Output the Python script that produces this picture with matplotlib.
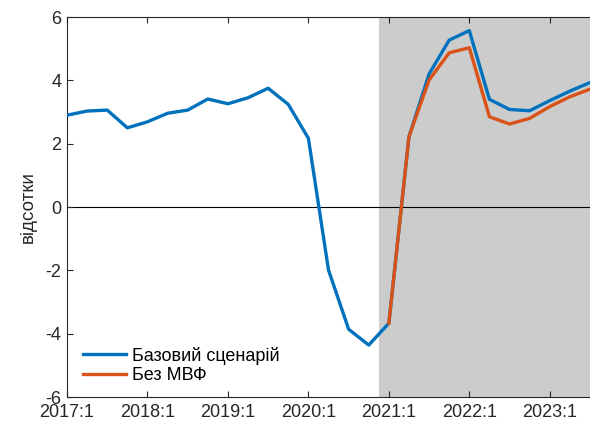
import numpy as np
import matplotlib
matplotlib.use("Agg")
import matplotlib.pyplot as plt

plt.rcParams['font.family'] = ['Liberation Sans', 'DejaVu Sans']
plt.rcParams['axes.unicode_minus'] = False

# квартали з 2017:1 по 2023:3
kvartaly = 2017 + np.arange(27) / 4.0

bazovyi = [2.90, 3.03, 3.06, 2.50, 2.69, 2.96, 3.06, 3.41, 3.26, 3.45, 3.75, 3.24,
           2.17, -1.99, -3.86, -4.36, -3.67, 2.22, 4.20, 5.27, 5.57, 3.40, 3.08,
           3.04, 3.36, 3.66, 3.93]
# без МВФ - тільки з 2021:1
bez_mvf = [np.nan] * 16 + [-3.67, 2.22, 4.01, 4.87, 5.03, 2.85, 2.62, 2.80,
                           3.17, 3.48, 3.72]

roky = list(range(2017, 2024))
pidpysy = ["%d:1" % r for r in roky]
pochatok_prognozu = 2020.875

synii = "#0072BD"
pomaranch = "#D95319"
siryi = "#262626"

fig = plt.figure(figsize=(5.9, 4.21), dpi=100)
ax = fig.add_axes([67 / 590, 1 - 397 / 421, 1 - 67 / 590, 380 / 421])

ax.axvspan(pochatok_prognozu, kvartaly[-1], color="#CCCCCC", lw=0, zorder=0)
ax.axhline(0, color="black", lw=0.8, zorder=1)

ax.plot(kvartaly, bazovyi, color=synii, lw=2.4, label="Базовий сценарій", zorder=3)
ax.plot(kvartaly, bez_mvf, color=pomaranch, lw=2.4, label="Без МВФ", zorder=4)

ax.set_xlim(kvartaly[0], kvartaly[-1])
ax.set_ylim(-6, 6)
ax.set_xticks(roky)
ax.set_xticklabels(pidpysy)
ax.set_yticks(np.arange(-6, 7, 2))
ax.tick_params(direction="in", length=4, width=0.8, colors=siryi,
               labelsize=13, labelcolor=siryi, top=True, right=False)
ax.tick_params(axis="x", pad=5)
ax.tick_params(axis="y", pad=4)
for s in ["left", "top", "bottom"]:
    ax.spines[s].set_color(siryi)
    ax.spines[s].set_linewidth(0.8)
ax.spines["right"].set_visible(False)

ax.set_ylabel("відсотки", fontsize=13.5, color=siryi, labelpad=6)

ax.legend(loc="lower left", frameon=False, fontsize=13, handlelength=2.4,
          handletextpad=0.35, labelspacing=0.15, borderaxespad=0.3,
          bbox_to_anchor=(0.006, 0.0))

fig.savefig("out.png", dpi=100)
